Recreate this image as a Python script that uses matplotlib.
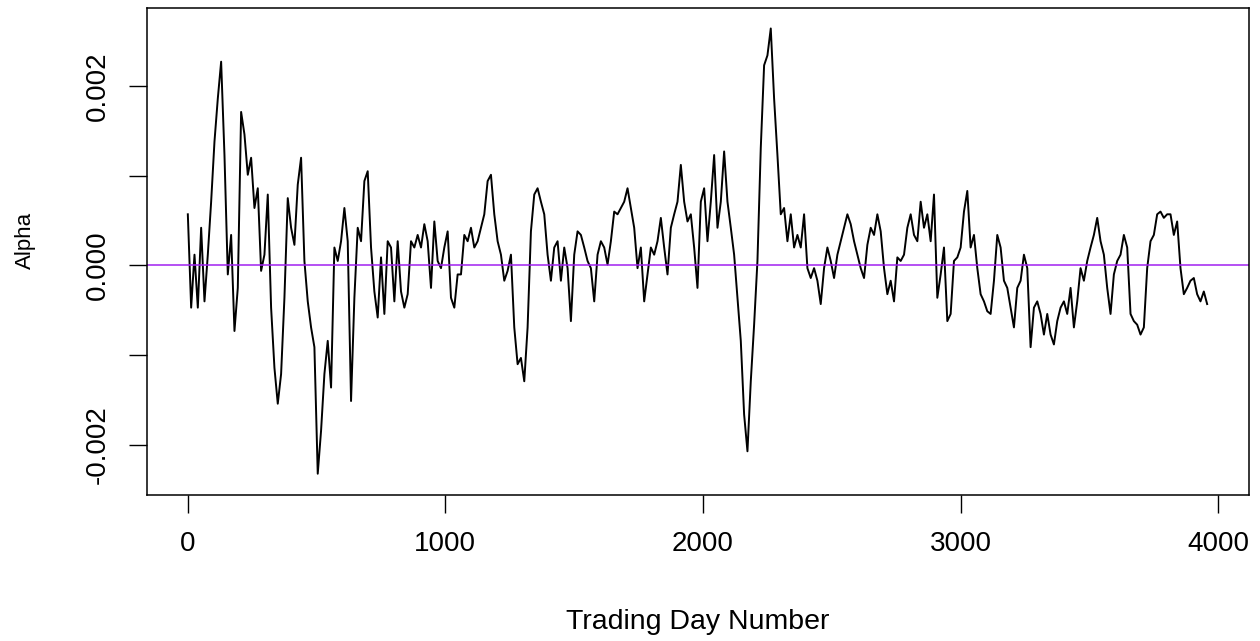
import numpy as np
import matplotlib
matplotlib.use("Agg")
import matplotlib.pyplot as plt

# rolling alpha in units of 1e-4, one value every ~13 trading days
alpha_part1 = [5.7, -4.7, 1.2, -4.7, 4.2, -4.0, 1.2, 7.1, 13.8, 18.6, 22.7, 12.3, -1.0, 3.4, -7.3,
               -2.5, 17.1, 14.6, 10.1, 12.0, 6.4, 8.6, -0.6, 1.2, 7.9, -4.7, -11.4, -15.4, -12.1,
               -3.6, 7.5, 4.2, 2.3, 9.0, 12.0, 0.5, -4.0, -6.9, -9.1, -23.2, -18.4, -12.1, -8.4,
               -13.6, 2.0, 0.5, 2.7, 6.4, 2.7]
alpha_part2 = [-15.1, -3.6, 4.2, 2.7, 9.4, 10.5, 2.0, -2.9, -5.8, 0.9, -5.4, 2.7, 2.0, -4.0, 2.7,
               -2.9, -4.7, -3.2, 2.7, 2.0, 3.4, 2.0, 4.6, 2.7, -2.5, 4.9, 0.5, -0.3, 2.0, 3.8,
               -3.6, -4.7, -1.0, -1.0, 3.4, 2.7, 4.2, 2.0, 2.7, 4.2, 5.7, 9.4, 10.1, 5.7, 2.7,
               1.2, -1.7, -0.6, 1.2, -6.9, -11.0]
alpha_part3 = [-10.3, -12.9, -6.9, 3.8, 7.9, 8.6, 7.1, 5.7, 1.2, -1.7, 2.0, 2.7, -1.7, 2.0, -0.3,
               -6.2, 1.2, 3.8, 3.4, 2.0, 0.5, -0.3, -4.0, 1.2, 2.7, 2.0, 0.1, 2.7, 6.0, 5.7,
               6.4, 7.1, 8.6, 6.4, 4.2, -0.3, 2.0, -4.0, -1.0, 2.0, 1.2, 2.7, 5.3, 2.0, -1.0,
               4.2, 5.7, 7.1, 11.2, 7.1, 4.9]
alpha_part4 = [5.7, 2.0, -2.5, 7.1, 8.6, 2.7, 7.1, 12.3, 4.2, 7.1, 12.7, 7.1, 4.2, 1.2, -3.6,
               -8.4, -16.6, -20.7, -12.9, -6.6, 0.5, 13.1, 22.3, 23.4, 26.4, 18.6, 12.3, 5.7, 6.4,
               2.7, 5.7, 2.0, 3.4, 2.0, 5.7, -0.3, -1.4, -0.3, -1.7, -4.3, -0.3, 2.0, 0.5, -1.4,
               1.2, 2.7, 4.2, 5.7, 4.6, 2.7, 1.2]
alpha_part5 = [-0.3, -1.4, 2.3, 4.2, 3.4, 5.7, 3.8, -0.3, -3.2, -1.7, -4.0, 0.9, 0.5, 1.2, 4.2,
               5.7, 3.4, 2.7, 7.1, 4.2, 5.7, 2.7, 7.9, -3.6, -1.0, 2.0, -6.2, -5.4, 0.5, 0.9,
               2.0, 6.0, 8.3, 2.0, 3.4, -0.3, -3.2, -4.0, -5.1, -5.4, -1.7, 3.4, 2.0, -1.7, -2.5,
               -4.7, -6.9, -2.5, -1.7, 1.2, -0.3]
alpha_part6 = [-9.1, -4.7, -4.0, -5.4, -7.7, -5.4, -7.7, -8.8, -6.2, -4.7, -4.0, -5.4, -2.5, -6.9,
               -4.0, -0.3, -1.7, 0.5, 2.0, 3.4, 5.3, 2.7, 1.2, -2.5, -5.4, -1.0, 0.5, 1.2, 3.4,
               2.0, -5.4, -6.2, -6.6, -7.7, -6.9, -0.3, 2.7, 3.4, 5.7, 6.0, 5.3, 5.7, 5.7, 3.4,
               4.9, -0.3, -3.2, -2.5, -1.7, -1.4, -3.2, -4.0, -2.9, -4.3]

first_day = 1
last_day = 3956

alpha = np.array(alpha_part1 + alpha_part2 + alpha_part3 + alpha_part4
                 + alpha_part5 + alpha_part6) * 1e-4
day = np.linspace(first_day, last_day, len(alpha))

plt.rcParams.update({
    "font.family": ["Liberation Sans", "DejaVu Sans"],
    "font.size": 20,
})

fig = plt.figure(figsize=(12.6, 6.41), dpi=100)
ax = fig.add_axes([147 / 1260, 1 - 495 / 641, 1102 / 1260, 487 / 641])

ax.plot(day, alpha, color="black", linewidth=1.4)
ax.axhline(0, color="#A020F0", linewidth=1.1)

ax.set_xlim(-157.4, 4118.4)
ax.set_ylim(-0.002557, 0.002868)

ax.set_xticks([0, 1000, 2000, 3000, 4000])
ax.set_xticklabels(["0", "1000", "2000", "3000", "4000"])
ax.set_yticks([-0.002, -0.001, 0.0, 0.001, 0.002])
ax.set_yticklabels(["-0.002", "", "0.000", "", "0.002"])
for lab in ax.get_yticklabels():
    lab.set_rotation(90)
    lab.set_va("center")

ax.tick_params(axis="both", length=13, width=1.0, colors="black", labelsize=20)
ax.tick_params(axis="x", pad=13)
ax.tick_params(axis="y", pad=13)
for sp in ax.spines.values():
    sp.set_linewidth(1.1)

ax.set_xlabel("Trading Day Number", fontsize=20.5, va="center")
ax.xaxis.set_label_coords(0.5, -(622 - 495) / 487)
ax.set_ylabel("Alpha", fontsize=16, va="center")
ax.yaxis.set_label_coords(-(147 - 25) / 1102, (495 - 240) / 487)

fig.savefig("out.png", dpi=100)
